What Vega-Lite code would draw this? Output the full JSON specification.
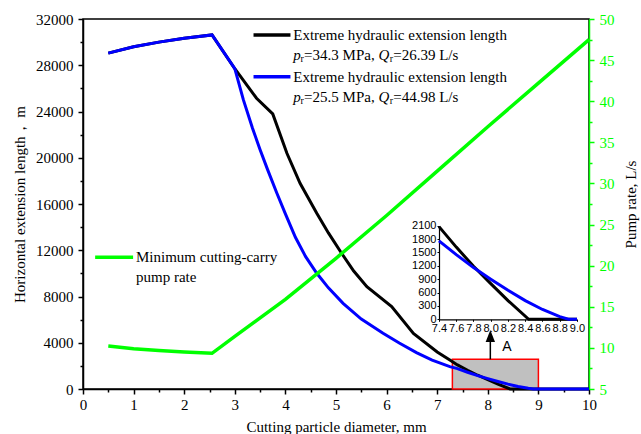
{
  "$schema": "https://vega.github.io/schema/vega-lite/v6.json",
  "width": 506,
  "height": 370,
  "autosize": {"type": "none"},
  "padding": {"left": 83, "top": 19, "right": 52, "bottom": 45},
  "background": "white",
  "config": {
    "view": {"stroke": "black", "strokeWidth": 1.5},
    "axis": {
      "labelFont": "Liberation Serif", "titleFont": "Liberation Serif",
      "labelFontSize": 15, "titleFontSize": 15, "titleFontWeight": "normal",
      "labelColor": "black", "titleColor": "black", "domainColor": "black", "tickColor": "black",
      "grid": false, "domainWidth": 1.5, "tickWidth": 1.5, "labelOverlap": false, "labelFlush": false
    }
  },
  "datasets": {
    "ext": [
      {"s": "hi", "d": 0.5, "L": 29050}, {"s": "hi", "d": 1, "L": 29600}, {"s": "hi", "d": 1.5, "L": 30000},
      {"s": "hi", "d": 2, "L": 30330}, {"s": "hi", "d": 2.55, "L": 30620}, {"s": "hi", "d": 3.0, "L": 27700},
      {"s": "hi", "d": 3.43, "L": 25150}, {"s": "hi", "d": 3.75, "L": 23790}, {"s": "hi", "d": 4.03, "L": 20390},
      {"s": "hi", "d": 4.29, "L": 17790}, {"s": "hi", "d": 4.62, "L": 15200}, {"s": "hi", "d": 4.85, "L": 13500},
      {"s": "hi", "d": 5.11, "L": 11740}, {"s": "hi", "d": 5.35, "L": 10200},
      {"s": "hi", "d": 5.61, "L": 8850}, {"s": "hi", "d": 6.1, "L": 7120}, {"s": "hi", "d": 6.53, "L": 4810},
      {"s": "hi", "d": 7.0, "L": 3200}, {"s": "hi", "d": 7.25, "L": 2510}, {"s": "hi", "d": 7.4, "L": 2080},
      {"s": "hi", "d": 7.6, "L": 1620}, {"s": "hi", "d": 7.8, "L": 1190}, {"s": "hi", "d": 8.0, "L": 800},
      {"s": "hi", "d": 8.2, "L": 420}, {"s": "hi", "d": 8.44, "L": 0}, {"s": "hi", "d": 9.0, "L": 0},
      {"s": "hi", "d": 10, "L": 0},
      {"s": "lo", "d": 0.5, "L": 29050}, {"s": "lo", "d": 1, "L": 29600}, {"s": "lo", "d": 1.5, "L": 30000},
      {"s": "lo", "d": 2, "L": 30330}, {"s": "lo", "d": 2.55, "L": 30620}, {"s": "lo", "d": 3.0, "L": 27700},
      {"s": "lo", "d": 3.17, "L": 25000}, {"s": "lo", "d": 3.35, "L": 22550}, {"s": "lo", "d": 3.5, "L": 20700},
      {"s": "lo", "d": 3.65, "L": 18950}, {"s": "lo", "d": 3.83, "L": 16950}, {"s": "lo", "d": 4.0, "L": 15150},
      {"s": "lo", "d": 4.2, "L": 13100}, {"s": "lo", "d": 4.4, "L": 11450}, {"s": "lo", "d": 4.62, "L": 10010},
      {"s": "lo", "d": 4.85, "L": 8750}, {"s": "lo", "d": 5.14, "L": 7410}, {"s": "lo", "d": 5.5, "L": 6050},
      {"s": "lo", "d": 5.93, "L": 4820}, {"s": "lo", "d": 6.25, "L": 3980}, {"s": "lo", "d": 6.59, "L": 3150},
      {"s": "lo", "d": 6.9, "L": 2500}, {"s": "lo", "d": 7.25, "L": 1930}, {"s": "lo", "d": 7.4, "L": 1760},
      {"s": "lo", "d": 7.6, "L": 1450}, {"s": "lo", "d": 7.8, "L": 1160}, {"s": "lo", "d": 8.0, "L": 900},
      {"s": "lo", "d": 8.2, "L": 650}, {"s": "lo", "d": 8.4, "L": 420}, {"s": "lo", "d": 8.6, "L": 220},
      {"s": "lo", "d": 8.8, "L": 60}, {"s": "lo", "d": 8.9, "L": 0}, {"s": "lo", "d": 9.0, "L": 0},
      {"s": "lo", "d": 10, "L": 0}
    ],
    "pump": [
      {"d": 0.5, "Q": 10.23}, {"d": 1, "Q": 9.9}, {"d": 1.5, "Q": 9.68}, {"d": 2, "Q": 9.5},
      {"d": 2.55, "Q": 9.34}, {"d": 3, "Q": 11.4}, {"d": 4, "Q": 15.9}, {"d": 5, "Q": 20.9},
      {"d": 6, "Q": 26.1}, {"d": 7, "Q": 31.5}, {"d": 8, "Q": 36.9}, {"d": 9, "Q": 42.2}, {"d": 10, "Q": 47.5}
    ],
    "leg": [
      {"s": "hi", "d": 3.37, "d2": 4.1, "L": 30620},
      {"s": "lo", "d": 3.37, "d2": 4.1, "L": 27010},
      {"s": "pump", "d": 0.24, "d2": 0.99, "L": 11390}
    ],
    "notes": [
      {"k": "plain", "d": 4.156, "L": 30620, "t": "Extreme hydraulic extension length"},
      {"k": "ital", "d": 4.156, "L": 28890, "t": "p"},
      {"k": "sub", "d": 4.3, "L": 28890, "t": "r"},
      {"k": "plain", "d": 4.37, "L": 28890, "t": "=34.3 MPa,"},
      {"k": "ital", "d": 5.84, "L": 28890, "t": "Q"},
      {"k": "sub", "d": 6.06, "L": 28890, "t": "r"},
      {"k": "plain", "d": 6.13, "L": 28890, "t": "=26.39 L/s"},
      {"k": "plain", "d": 4.156, "L": 27010, "t": "Extreme hydraulic extension length"},
      {"k": "ital", "d": 4.156, "L": 25290, "t": "p"},
      {"k": "sub", "d": 4.3, "L": 25290, "t": "r"},
      {"k": "plain", "d": 4.37, "L": 25290, "t": "=25.5 MPa,"},
      {"k": "ital", "d": 5.84, "L": 25290, "t": "Q"},
      {"k": "sub", "d": 6.06, "L": 25290, "t": "r"},
      {"k": "plain", "d": 6.13, "L": 25290, "t": "=44.98 L/s"},
      {"k": "plain", "d": 1.047, "L": 11390, "t": "Minimum cutting-carry"},
      {"k": "plain", "d": 1.047, "L": 9715, "t": "pump rate"}
    ],
    "box": [{"d": 7.3, "d2": 9.0, "L": 0, "L2": 2570}],
    "arrow": [{"d": 8.05, "L": 2570, "L2": 4090}],
    "head": [{"d": 8.05, "L": 4585}],
    "tag": [{"d": 8.38, "L": 3630, "t": "A"}]
  },
  "resolve": {"scale": {"x": "independent", "y": "independent"}},
  "layer": [
    {
      "encoding": {
        "x": {
          "field": "d", "type": "quantitative",
          "scale": {"domain": [0, 10], "nice": false},
          "axis": {
            "orient": "bottom", "title": "Cutting particle diameter, mm", "format": "~g",
            "values": [0, 0.5, 1, 1.5, 2, 2.5, 3, 3.5, 4, 4.5, 5, 5.5, 6, 6.5, 7, 7.5, 8, 8.5, 9, 9.5, 10],
            "labelExpr": "datum.value % 1 === 0 ? datum.label : ''",
            "tickSize": {"condition": {"test": "datum.value % 1 !== 0", "value": 3}, "value": 5},
            "labelPadding": 3, "titlePadding": 7
          }
        },
        "y": {
          "field": "L", "type": "quantitative",
          "scale": {"domain": [0, 32000], "nice": false},
          "axis": {
            "orient": "left", "title": "Horizontal extension length， m", "format": "d",
            "values": [0, 2000, 4000, 6000, 8000, 10000, 12000, 14000, 16000, 18000, 20000, 22000, 24000, 26000, 28000, 30000, 32000],
            "labelExpr": "datum.value % 4000 === 0 ? datum.label : ''",
            "tickSize": {"condition": {"test": "datum.value % 4000 !== 0", "value": 3}, "value": 5},
            "labelPadding": 5, "titlePadding": 8
          }
        }
      },
      "layer": [
        {
          "data": {"name": "box"},
          "mark": {"type": "rect", "fill": "#c0c0c0", "stroke": "#ff0000", "strokeWidth": 1.5},
          "encoding": {"x2": {"field": "d2"}, "y2": {"field": "L2"}}
        },
        {
          "data": {"name": "ext"},
          "transform": [{"filter": "datum.s === 'hi'"}],
          "mark": {"type": "line", "color": "#000000", "strokeWidth": 3}
        },
        {
          "data": {"name": "ext"},
          "transform": [{"filter": "datum.s === 'lo'"}],
          "mark": {"type": "line", "color": "#0000ff", "strokeWidth": 3}
        },
        {
          "data": {"name": "leg"},
          "mark": {"type": "rule", "strokeWidth": 3.5},
          "encoding": {
            "x2": {"field": "d2"},
            "color": {"field": "s", "type": "nominal", "scale": {"domain": ["hi", "lo", "pump"], "range": ["#000000", "#0000ff", "#00ff00"]}, "legend": null}
          }
        },
        {
          "data": {"name": "notes"},
          "transform": [{"filter": "datum.k === 'plain'"}],
          "mark": {"type": "text", "align": "left", "baseline": "middle", "font": "Liberation Serif", "fontSize": 15, "color": "black"},
          "encoding": {"text": {"field": "t"}}
        },
        {
          "data": {"name": "notes"},
          "transform": [{"filter": "datum.k === 'ital'"}],
          "mark": {"type": "text", "align": "left", "baseline": "middle", "font": "Liberation Serif", "fontSize": 15, "fontStyle": "italic", "color": "black"},
          "encoding": {"text": {"field": "t"}}
        },
        {
          "data": {"name": "notes"},
          "transform": [{"filter": "datum.k === 'sub'"}],
          "mark": {"type": "text", "align": "left", "baseline": "middle", "font": "Liberation Serif", "fontSize": 10, "dy": 4, "color": "black"},
          "encoding": {"text": {"field": "t"}}
        },
        {
          "data": {"name": "arrow"},
          "mark": {"type": "rule", "color": "black", "strokeWidth": 1.5},
          "encoding": {"y2": {"field": "L2"}}
        },
        {
          "data": {"name": "head"},
          "mark": {"type": "point", "shape": "M0,-1L-0.78,1L0.78,1Z", "size": 144, "filled": true, "color": "black", "opacity": 1}
        },
        {
          "data": {"name": "tag"},
          "mark": {"type": "text", "align": "center", "baseline": "middle", "font": "Liberation Sans", "fontSize": 14, "color": "black"},
          "encoding": {"text": {"field": "t"}}
        }
      ]
    },
    {
      "data": {"name": "pump"},
      "mark": {"type": "line", "color": "#00ff00", "strokeWidth": 3.5},
      "encoding": {
        "x": {"field": "d", "type": "quantitative", "scale": {"domain": [0, 10], "nice": false}, "axis": null},
        "y": {
          "field": "Q", "type": "quantitative",
          "scale": {"domain": [5, 50], "nice": false, "zero": false},
          "axis": {
            "orient": "right", "title": "Pump rate, L/s", "titleAngle": 270, "titleBaseline": "bottom",
            "values": [5, 7.5, 10, 12.5, 15, 17.5, 20, 22.5, 25, 27.5, 30, 32.5, 35, 37.5, 40, 42.5, 45, 47.5, 50],
            "labelExpr": "datum.value % 5 === 0 ? datum.label : ''",
            "tickSize": {"condition": {"test": "datum.value % 5 !== 0", "value": 3}, "value": 5},
            "labelColor": "#00ff00", "domainColor": "#00ff00", "tickColor": "#00ff00",
            "labelPadding": 5, "titlePadding": 24
          }
        }
      }
    },
    {
      "data": {"name": "ext"},
      "transform": [{"filter": "datum.d >= 7.4 && datum.d <= 9.0"}],
      "encoding": {
        "x": {
          "field": "d", "type": "quantitative",
          "scale": {"domain": [7.4, 9.0], "range": [356, 494], "nice": false, "zero": false},
          "axis": {
            "orient": "bottom", "offset": -69.7, "title": null, "format": ".1f",
            "values": [7.4, 7.6, 7.8, 8.0, 8.2, 8.4, 8.6, 8.8, 9.0],
            "labelFont": "Liberation Sans", "labelFontSize": 11, "tickSize": 2, "labelPadding": 1,
            "domainWidth": 1.2, "tickWidth": 1
          }
        },
        "y": {
          "field": "L", "type": "quantitative",
          "scale": {"domain": [0, 2100], "range": [300.3, 206.7], "nice": false},
          "axis": {
            "orient": "left", "offset": -356, "title": null, "format": "d",
            "values": [0, 300, 600, 900, 1200, 1500, 1800, 2100],
            "labelFont": "Liberation Sans", "labelFontSize": 11, "tickSize": 2, "labelPadding": 1,
            "domainWidth": 1.2, "tickWidth": 1
          }
        }
      },
      "layer": [
        {
          "transform": [{"filter": "datum.s === 'hi'"}],
          "mark": {"type": "line", "color": "#000000", "strokeWidth": 3}
        },
        {
          "transform": [{"filter": "datum.s === 'lo'"}],
          "mark": {"type": "line", "color": "#0000ff", "strokeWidth": 3}
        }
      ]
    }
  ]
}
